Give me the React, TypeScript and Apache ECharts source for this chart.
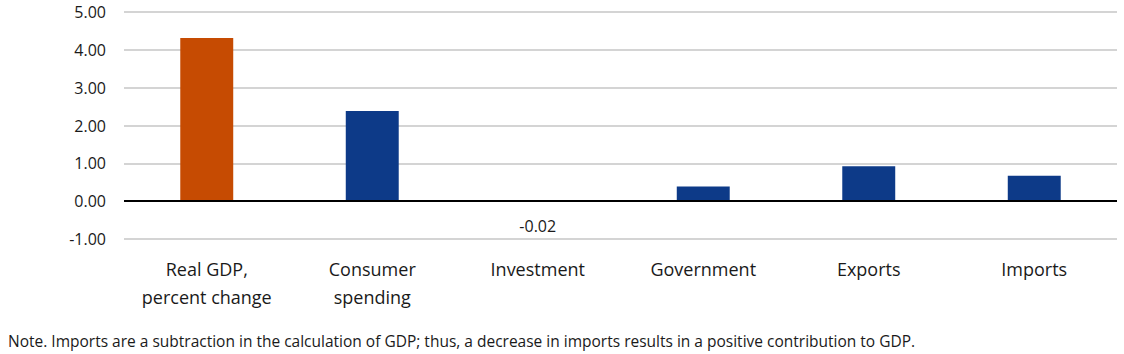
import React, { useEffect, useRef } from "react";
import * as echarts from "echarts";

const categories = ["Real GDP,\npercent change", "Consumer\nspending", "Investment", "Government", "Exports", "Imports"];
const values = [4.31, 2.38, -0.02, 0.39, 0.92, 0.67];
const barColors = ["#C64B02", "#0D3A88", "#0D3A88", "#0D3A88", "#0D3A88", "#0D3A88"];
const labeledIndex = [2];
const note = "Note. Imports are a subtraction in the calculation of GDP; thus, a decrease in imports results in a positive contribution to GDP.";

const FONT = "'Open Sans', 'Noto Sans', sans-serif";

export default function App() {
  const ref = useRef<HTMLDivElement>(null);
  useEffect(() => {
    if (!ref.current) return;
    const chart = echarts.init(ref.current, undefined, { renderer: "svg" });
    chart.setOption({
      animation: false,
      backgroundColor: "#ffffff",
      grid: { left: 124, right: 7, top: 12, bottom: 115, containLabel: false },
      xAxis: {
        type: "category",
        data: categories,
        axisLine: { show: false, onZero: false },
        axisTick: { show: false },
        axisLabel: { color: "#1a1a1a", fontSize: 18, fontFamily: FONT, lineHeight: 28, margin: 16, interval: 0 },
      },
      yAxis: {
        type: "value",
        min: -1,
        max: 5,
        interval: 1,
        axisLine: { show: false },
        axisTick: { show: false },
        splitLine: { lineStyle: { color: "#d4d4d4", width: 2 } },
        axisLabel: { color: "#1a1a1a", fontSize: 16, fontFamily: FONT, margin: 18, formatter: (v: number) => v.toFixed(2) },
      },
      series: [
        {
          type: "bar",
          barWidth: "32%",
          data: values.map((v, i) => ({
            value: v,
            itemStyle: { color: barColors[i] },
            label: labeledIndex.includes(i)
              ? { show: true, position: "bottom", distance: 16, color: "#1a1a1a", fontSize: 16, fontFamily: FONT, formatter: (p: any) => p.value.toFixed(2) }
              : { show: false },
          })),
          markLine: {
            silent: true,
            symbol: "none",
            label: { show: false },
            lineStyle: { color: "#000000", width: 2, type: "solid" },
            data: [{ yAxis: 0 }],
          },
        },
      ],
      graphic: [
        {
          type: "text",
          left: 8,
          top: 333,
          style: { text: note, fill: "#1a1a1a", fontSize: 15.5, fontFamily: FONT },
        },
      ],
    });
    return () => chart.dispose();
  }, []);
  return <div ref={ref} style={{ position: "fixed", left: 0, top: 0, width: 1124, height: 354 }} />;
}
